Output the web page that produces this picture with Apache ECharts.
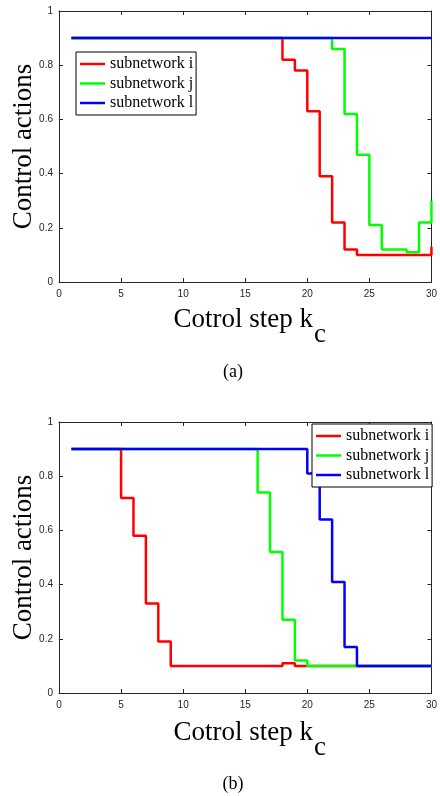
<!DOCTYPE html>
<html>
<head>
<meta charset="utf-8">
<script src="https://cdn.jsdelivr.net/npm/echarts@6/dist/echarts.min.js"></script>
<style>
  html, body { margin: 0; padding: 0; background: #fff; }
  #chart { width: 440px; height: 796px; }
</style>
</head>
<body>
<div id="chart"></div>
<script>
// control step k_c
const steps = [1, 2, 3, 4, 5, 6, 7, 8, 9, 10, 11, 12, 13, 14, 15, 16, 17, 18, 19, 20, 21, 22, 23, 24, 25, 26, 27, 28, 29, 30]

// (a)
const aI = [0.9, 0.9, 0.9, 0.9, 0.9, 0.9, 0.9, 0.9, 0.9, 0.9, 0.9, 0.9, 0.9, 0.9, 0.9, 0.9, 0.9, 0.82, 0.78, 0.63, 0.39, 0.22, 0.12, 0.10, 0.10, 0.10, 0.10, 0.10, 0.10, 0.13]
const aJ = [0.9, 0.9, 0.9, 0.9, 0.9, 0.9, 0.9, 0.9, 0.9, 0.9, 0.9, 0.9, 0.9, 0.9, 0.9, 0.9, 0.9, 0.9, 0.9, 0.9, 0.9, 0.86, 0.62, 0.47, 0.21, 0.12, 0.12, 0.11, 0.22, 0.30]
const aL = [0.9, 0.9, 0.9, 0.9, 0.9, 0.9, 0.9, 0.9, 0.9, 0.9, 0.9, 0.9, 0.9, 0.9, 0.9, 0.9, 0.9, 0.9, 0.9, 0.9, 0.9, 0.9, 0.9, 0.9, 0.9, 0.9, 0.9, 0.9, 0.9, 0.9]

// (b)
const bI = [0.9, 0.9, 0.9, 0.9, 0.72, 0.58, 0.33, 0.19, 0.10, 0.10, 0.10, 0.10, 0.10, 0.10, 0.10, 0.10, 0.10, 0.11, 0.10, 0.10, 0.10, 0.10, 0.10, 0.10, 0.10, 0.10, 0.10, 0.10, 0.10, 0.10]
const bJ = [0.9, 0.9, 0.9, 0.9, 0.9, 0.9, 0.9, 0.9, 0.9, 0.9, 0.9, 0.9, 0.9, 0.9, 0.9, 0.74, 0.52, 0.27, 0.12, 0.10, 0.10, 0.10, 0.10, 0.10, 0.10, 0.10, 0.10, 0.10, 0.10, 0.10]
const bL = [0.9, 0.9, 0.9, 0.9, 0.9, 0.9, 0.9, 0.9, 0.9, 0.9, 0.9, 0.9, 0.9, 0.9, 0.9, 0.9, 0.9, 0.9, 0.9, 0.81, 0.64, 0.41, 0.17, 0.10, 0.10, 0.10, 0.10, 0.10, 0.10, 0.10]

const names = ['subnetwork i', 'subnetwork j', 'subnetwork l']
const colors = ['#ff0000', '#00ff00', '#0000ff']

const serif = '"Liberation Serif", "Times New Roman", serif'
const sans = '"Liberation Sans", Arial, sans-serif'
const axisColor = '#262626'

const pairs = (vals) => steps.map((s, i) => [s, vals[i]])

const grids = [
  { left: 59, top: 11, width: 375, height: 271 },
  { left: 59, top: 422, width: 375, height: 271 }
]

const xAxes = []
const yAxes = []
grids.forEach((g, gi) => {
  // bottom axis with labels, top axis only for the box ticks
  ;['bottom', 'top'].forEach((pos) => {
    xAxes.push({
      gridIndex: gi,
      type: 'value',
      position: pos,
      min: 0,
      max: 30,
      interval: 5,
      axisLine: { show: true, onZero: false, lineStyle: { color: axisColor, width: 1 } },
      axisTick: { show: true, inside: true, length: 4, lineStyle: { color: axisColor } },
      axisLabel: { show: pos === 'bottom', margin: 7, fontSize: 10, color: axisColor, fontFamily: sans },
      splitLine: { show: false }
    })
  })
  ;['left', 'right'].forEach((pos) => {
    yAxes.push({
      gridIndex: gi,
      type: 'value',
      position: pos,
      min: 0,
      max: 1,
      interval: 0.2,
      axisLine: { show: true, onZero: false, lineStyle: { color: axisColor, width: 1 } },
      axisTick: { show: true, inside: true, length: 4, lineStyle: { color: axisColor } },
      axisLabel: {
        show: pos === 'left',
        margin: 6,
        fontSize: 10,
        color: axisColor,
        fontFamily: sans,
        formatter: (v) => (v === 0 || v === 1 ? String(v) : v.toFixed(1))
      },
      splitLine: { show: false }
    })
  })
})

const makeSeries = (vals, k, gi) => ({
  name: names[k],
  type: 'line',
  step: 'end',
  xAxisIndex: gi * 2,
  yAxisIndex: gi * 2,
  data: pairs(vals),
  symbol: 'none',
  lineStyle: { color: colors[k], width: 2.5 },
  itemStyle: { color: colors[k] },
  z: 2
})

const series = [
  makeSeries(aI, 0, 0),
  makeSeries(aJ, 1, 0),
  makeSeries(aL, 2, 0),
  makeSeries(bI, 0, 1),
  makeSeries(bJ, 1, 1),
  makeSeries(bL, 2, 1)
]

const legendBase = {
  orient: 'vertical',
  data: names,
  icon: 'rect',
  itemWidth: 25,
  itemHeight: 2.5,
  itemGap: 3.5,
  padding: [4, 3, 4, 4],
  borderColor: '#000',
  borderWidth: 1,
  backgroundColor: '#fff',
  textStyle: { fontFamily: serif, fontSize: 16, color: '#000' },
  selectedMode: false,
  z: 10
}

const chart = echarts.init(document.getElementById('chart'), null, { renderer: 'canvas' })

const yLabel = (y) => ({
  type: 'text',
  x: 24,
  y: y,
  rotation: Math.PI / 2,
  style: { text: 'Control actions', font: '27px ' + serif, fill: '#000', align: 'center', verticalAlign: 'middle' }
})
const xLabel = (y) => [
  {
    type: 'text',
    x: 313,
    y: y,
    style: { text: 'Cotrol step k', font: '27px ' + serif, fill: '#000', align: 'right', verticalAlign: 'middle' }
  },
  {
    type: 'text',
    x: 314,
    y: y + 15,
    style: { text: 'c', font: '27px ' + serif, fill: '#000', align: 'left', verticalAlign: 'middle' }
  }
]
const caption = (t, y) => ({
  type: 'text',
  x: 233,
  y: y,
  style: { text: t, font: '18px ' + serif, fill: '#000', align: 'center', verticalAlign: 'middle' }
})

chart.setOption({
  animation: false,
  backgroundColor: '#fff',
  grid: grids,
  xAxis: xAxes,
  yAxis: yAxes,
  legend: [
    Object.assign({}, legendBase, { left: 76, top: 52 }),
    Object.assign({}, legendBase, { left: 312, top: 424 })
  ],
  series: series,
  graphic: [
    yLabel(146.5),
    yLabel(557.5),
    ...xLabel(320),
    ...xLabel(733),
    caption('(a)', 372),
    caption('(b)', 784)
  ]
})
</script>
</body>
</html>
